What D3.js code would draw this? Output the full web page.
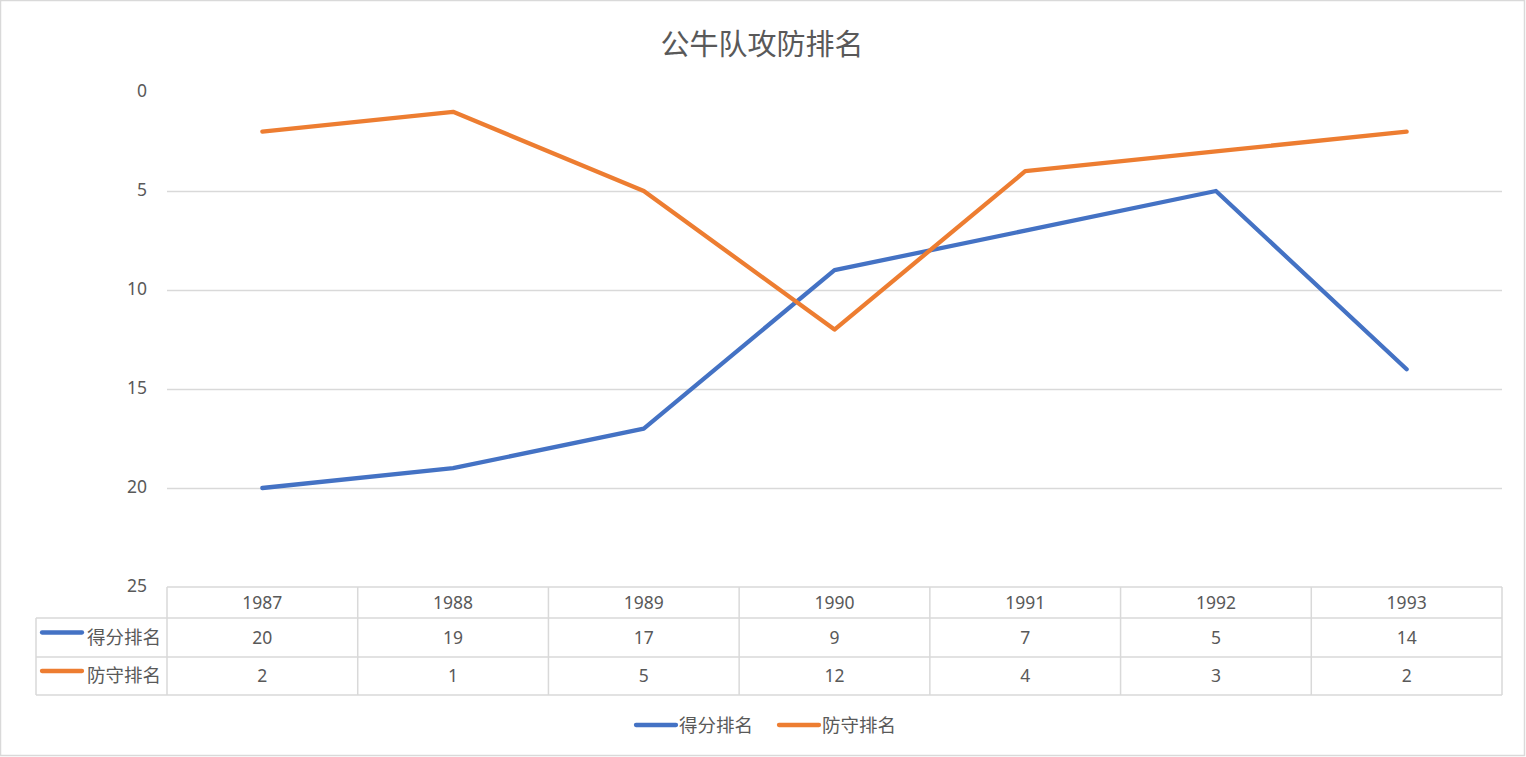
<!DOCTYPE html>
<html>
<head>
<meta charset="utf-8">
<script src="https://d3js.org/d3.v7.min.js"></script>
<style>
  body { margin: 0; background: #fff; }
  text { font-family: "Noto Sans CJK SC", "Noto Sans", sans-serif; fill: #595959; }
</style>
</head>
<body>
<svg id="chart" width="1526" height="757"></svg>
<script>
// chart data
const years = ["1987", "1988", "1989", "1990", "1991", "1992", "1993"];
const seriesNames = ["得分排名", "防守排名"];
const scoreRank = [20, 19, 17, 9, 7, 5, 14];
const defenseRank = [2, 1, 5, 12, 4, 3, 2];
const yTicks = [0, 5, 10, 15, 20, 25];
const colors = ["#4472C4", "#ED7D31"];
const title = "公牛队攻防排名";

const series = [
  { name: seriesNames[0], values: scoreRank, color: colors[0] },
  { name: seriesNames[1], values: defenseRank, color: colors[1] }
];

const svg = d3.select("#chart");
const W = 1526, H = 757;
const grid = "#D9D9D9";
const numFont = "'Noto Sans', sans-serif";

// outer border
svg.append("rect").attr("x", 0.5).attr("y", 0.5).attr("width", W - 2).attr("height", H - 2)
  .attr("fill", "#fff").attr("stroke", grid).attr("stroke-width", 1.5);

// title
svg.append("text").attr("x", 762).attr("y", 55).attr("text-anchor", "middle")
  .style("font-size", "29px").text(title);

// scales
const x = d3.scaleBand().domain(years).range([167, 1502]);
const y = d3.scaleLinear().domain([0, 25]).range([92, 587]);

// gridlines (no line at 0; 25 is the table top)
svg.append("g").selectAll("line").data(yTicks.filter(d => d > 0 && d < 25)).enter()
  .append("line")
  .attr("x1", 167).attr("x2", 1502)
  .attr("y1", d => Math.round(y(d)) + 0.5).attr("y2", d => Math.round(y(d)) + 0.5)
  .attr("stroke", grid).attr("stroke-width", 1.3);

// y axis labels
const yAxis = d3.axisLeft(y).tickValues(yTicks).tickSize(0).tickPadding(0);
const gy = svg.append("g").attr("transform", "translate(147,-1)").call(yAxis);
gy.select(".domain").remove();
gy.selectAll("text").style("font-size", "17.5px").attr("fill", "#595959")
  .style("font-family", numFont);

// lines
const line = d3.line()
  .x((d, i) => x(years[i]) + x.bandwidth() / 2)
  .y(d => y(d));
svg.append("g").selectAll("path").data(series).enter()
  .append("path")
  .attr("d", d => line(d.values))
  .attr("fill", "none")
  .attr("stroke", d => d.color)
  .attr("stroke-width", 4.3)
  .attr("stroke-linejoin", "round")
  .attr("stroke-linecap", "round");

// data table
const rowTop = [587, 618, 657, 695];
const tbl = svg.append("g").attr("stroke", grid).attr("stroke-width", 1.5);
tbl.append("line").attr("x1", 167).attr("x2", 1502).attr("y1", rowTop[0]).attr("y2", rowTop[0]);
[1, 2, 3].forEach(i => {
  tbl.append("line").attr("x1", 36).attr("x2", 1502).attr("y1", rowTop[i]).attr("y2", rowTop[i]);
});
tbl.append("line").attr("x1", 36).attr("x2", 36).attr("y1", rowTop[1]).attr("y2", rowTop[3]);
tbl.selectAll(".v").data(years.concat(["end"])).enter().append("line")
  .attr("x1", (d, i) => 167 + i * x.bandwidth()).attr("x2", (d, i) => 167 + i * x.bandwidth())
  .attr("y1", rowTop[0]).attr("y2", rowTop[3]);

// header years
svg.append("g").selectAll("text").data(years).enter().append("text")
  .attr("x", d => x(d) + x.bandwidth() / 2).attr("y", (rowTop[0] + rowTop[1]) / 2 + 6)
  .attr("text-anchor", "middle").style("font-size", "17.5px")
  .style("font-family", numFont).text(d => d);

// value rows
series.forEach((s, si) => {
  const cy = (rowTop[si + 1] + rowTop[si + 2]) / 2;
  const g = svg.append("g");
  g.append("line").attr("x1", 42).attr("x2", 82).attr("y1", cy - 5).attr("y2", cy - 5)
    .attr("stroke", s.color).attr("stroke-width", 4.3).attr("stroke-linecap", "round");
  g.append("text").attr("x", 161).attr("y", cy + 6).attr("text-anchor", "end")
    .style("font-size", "18.5px").text(s.name);
  g.selectAll(".val").data(s.values).enter().append("text")
    .attr("x", (d, i) => x(years[i]) + x.bandwidth() / 2).attr("y", cy + 6)
    .attr("text-anchor", "middle").style("font-size", "17.5px")
    .style("font-family", numFont).text(d => d);
});

// legend
const legendX = [636, 779];
series.forEach((s, si) => {
  const lx = legendX[si];
  svg.append("line").attr("x1", lx).attr("x2", lx + 40).attr("y1", 725).attr("y2", 725)
    .attr("stroke", s.color).attr("stroke-width", 4.3).attr("stroke-linecap", "round");
  svg.append("text").attr("x", lx + 43).attr("y", 731.5).style("font-size", "18.5px").text(s.name);
});
</script>
</body>
</html>
